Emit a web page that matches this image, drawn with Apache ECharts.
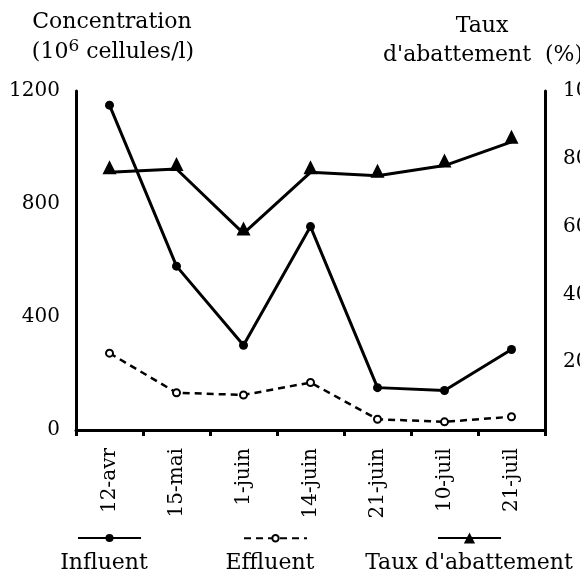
<!DOCTYPE html>
<html>
<head>
<meta charset="utf-8">
<script src="https://cdn.jsdelivr.net/npm/echarts@6/dist/echarts.min.js"></script>
<style>
html,body{margin:0;padding:0;background:#fff;}
#chart{width:580px;height:577px;}
</style>
</head>
<body>
<div id="chart"></div>
<script>
const categories = ['12-avr', '15-mai', '1-juin', '14-juin', '21-juin', '10-juil', '21-juil'];
const influent = [1150, 580, 300, 720, 150, 140, 285];
const effluent = [272, 132, 124, 168, 38, 29, 47];
const tauxAbattement = [76, 77, 58, 76, 75, 78, 85];
const seriesNames = ['Influent', 'Effluent', "Taux d'abattement"];

const FONT = 'DejaVu Serif';
const TFONT = '22px "DejaVu Serif"';
const chart = echarts.init(document.getElementById('chart'), null, {renderer: 'canvas'});

const legendBase = {
  itemWidth: 63, formatter: () => '', selectedMode: false,
  textStyle: {fontSize: 1}, padding: 0
};

chart.setOption({
  backgroundColor: '#fff',
  animation: false,
  grid: {left: 76, right: 35, top: 91, bottom: 147, containLabel: false, outerBoundsMode: 'none'},
  legend: [
    Object.assign({}, legendBase, {left: 77, top: 533, itemHeight: 10, data: [seriesNames[0]]}),
    Object.assign({}, legendBase, {left: 243, top: 534, itemHeight: 8, data: [seriesNames[1]]}),
    Object.assign({}, legendBase, {left: 437, top: 531, itemHeight: 14, data: [seriesNames[2]]})
  ],
  xAxis: {
    type: 'category', data: categories, boundaryGap: true,
    axisLine: {lineStyle: {color: '#000', width: 3}},
    axisTick: {show: true, length: 6, lineStyle: {color: '#000', width: 3}},
    axisLabel: {rotate: 90, margin: 18, color: '#000', fontFamily: FONT, fontSize: 20}
  },
  yAxis: [{
    type: 'value', min: 0, max: 1200, interval: 400, position: 'left',
    axisLine: {show: true, lineStyle: {color: '#000', width: 3}},
    axisTick: {show: false}, splitLine: {show: false},
    axisLabel: {margin: 16, color: '#000', fontFamily: FONT, fontSize: 20, formatter: v => String(v)}
  }, {
    type: 'value', min: 0, max: 100, interval: 20, position: 'right',
    axisLine: {show: true, lineStyle: {color: '#000', width: 3}},
    axisTick: {show: false}, splitLine: {show: false},
    axisLabel: {margin: 18, color: '#000', fontFamily: FONT, fontSize: 20,
      formatter: v => v === 0 ? '' : String(v)}
  }],
  graphic: [
    {type: 'text', x: 112, y: 22, style: {text: 'Concentration', font: TFONT, fill: '#000', align: 'center', verticalAlign: 'middle'}},
    {type: 'text', x: 113, y: 52, style: {
      text: '(10{sup|6} cellules/l)', font: TFONT, fill: '#000', align: 'center', verticalAlign: 'middle',
      rich: {sup: {fontSize: 17, fontFamily: FONT, padding: [0, 0, 11, 0], fill: '#000'}}
    }},
    {type: 'text', x: 482, y: 26, style: {text: 'Taux', font: TFONT, fill: '#000', align: 'center', verticalAlign: 'middle'}},
    {type: 'text', x: 383, y: 55, style: {text: "d'abattement  (%)", font: TFONT, fill: '#000', align: 'left', verticalAlign: 'middle'}},
    {type: 'text', x: 104, y: 563, style: {text: 'Influent', font: TFONT, fill: '#000', align: 'center', verticalAlign: 'middle'}},
    {type: 'text', x: 270, y: 563, style: {text: 'Effluent', font: TFONT, fill: '#000', align: 'center', verticalAlign: 'middle'}},
    {type: 'text', x: 469, y: 563, style: {text: "Taux d'abattement", font: TFONT, fill: '#000', align: 'center', verticalAlign: 'middle'}}
  ],
  series: [{
    name: seriesNames[0], type: 'line', data: influent, yAxisIndex: 0,
    symbol: 'circle', symbolSize: 9,
    lineStyle: {color: '#000', width: 3}, itemStyle: {color: '#000'}
  }, {
    name: seriesNames[1], type: 'line', data: effluent, yAxisIndex: 0,
    symbol: 'emptyCircle', symbolSize: 7, showSymbol: true,
    lineStyle: {color: '#000', width: 2.5, type: [7, 5]},
    itemStyle: {color: '#000', borderColor: '#000', borderWidth: 2}
  }, {
    name: seriesNames[2], type: 'line', data: tauxAbattement, yAxisIndex: 1,
    symbol: 'triangle', symbolSize: 14, symbolOffset: [0, -5],
    lineStyle: {color: '#000', width: 3}, itemStyle: {color: '#000'}
  }]
});
</script>
</body>
</html>
